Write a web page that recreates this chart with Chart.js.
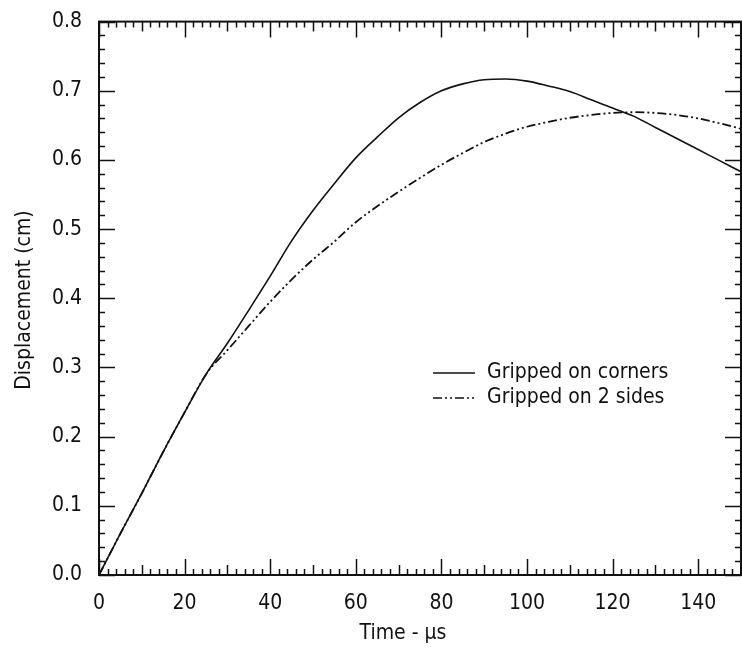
<!DOCTYPE html>
<html>
<head>
<meta charset="utf-8">
<script src="https://cdn.jsdelivr.net/npm/chart.js@4.4.1/dist/chart.umd.min.js"></script>
<style>
html,body{margin:0;padding:0;background:#fff;}
#wrap{width:742px;height:652px;position:relative;}
</style>
</head>
<body>
<div id="wrap"><canvas id="c" width="742" height="652"></canvas></div>
<script>
const timeUs = [0,5,10,15,20,25,30,35,40,45,50,55,60,65,70,75,80,85,90,95,100,105,110,115,120,125,130,135,140,145,150];
const grippedCorners = [0,0.06,0.118,0.178,0.235,0.29,0.335,0.383,0.432,0.483,0.527,0.566,0.603,0.633,0.661,0.683,0.700,0.710,0.716,0.717,0.714,0.707,0.699,0.687,0.675,0.663,0.647,0.631,0.615,0.599,0.583];
const gripped2Sides = [0,0.06,0.118,0.178,0.235,0.29,0.325,0.36,0.395,0.427,0.456,0.482,0.51,0.533,0.554,0.574,0.593,0.61,0.626,0.638,0.648,0.655,0.661,0.665,0.668,0.669,0.668,0.665,0.66,0.653,0.645];
const seriesNames = ["Gripped on corners","Gripped on 2 sides"];
const xTickLabels = [0,20,40,60,80,100,120,140];
const yTickLabels = [0.0,0.1,0.2,0.3,0.4,0.5,0.6,0.7,0.8];
const xTitle = "Time - µs";
const yTitle = "Displacement (cm)";

const FONT = "'DejaVu Sans Condensed','DejaVu Sans','Liberation Sans',Arial,sans-serif";
const DASH2 = [9,3,2,3,2,3];

const frameTicks = {
  id:'frameTicks',
  afterDatasetsDraw(chart){
    const ctx = chart.ctx, a = chart.chartArea;
    const xs = chart.scales.x, ys = chart.scales.y;
    ctx.save();
    ctx.strokeStyle = '#111';
    ctx.lineWidth = 2;
    ctx.strokeRect(a.left, a.top, a.right - a.left, a.bottom - a.top);
    ctx.lineWidth = 1.5;
    ctx.beginPath();
    for (let v = 0; v <= 150; v += 2) {
      const p = Math.round(xs.getPixelForValue(v)) + 0.5;
      const L = v % 20 === 0 ? 16 : (v % 10 === 0 ? 10 : 6);
      ctx.moveTo(p, a.bottom); ctx.lineTo(p, a.bottom - L);
      ctx.moveTo(p, a.top); ctx.lineTo(p, a.top + L);
    }
    for (let i = 0; i <= 40; i++) {
      const v = i * 0.02;
      const p = Math.round(ys.getPixelForValue(v)) + 0.5;
      const L = i % 5 === 0 ? 16 : 6;
      ctx.moveTo(a.left, p); ctx.lineTo(a.left + L, p);
      ctx.moveTo(a.right, p); ctx.lineTo(a.right - L, p);
    }
    ctx.stroke();
    // titles
    ctx.fillStyle = '#111';
    ctx.font = "21px " + FONT;
    ctx.textAlign = 'center';
    ctx.textBaseline = 'middle';
    ctx.fillText(xTitle, 403, 634);
    ctx.save();
    ctx.translate(25, 300);
    ctx.rotate(-Math.PI/2);
    ctx.fillText(yTitle, 0, 0);
    ctx.restore();
    // legend
    ctx.textAlign = 'left';
    const items = [{y:373, dash:[]},{y:398, dash:DASH2}];
    items.forEach((it, k) => {
      ctx.beginPath();
      ctx.setLineDash(it.dash);
      ctx.lineWidth = 1.5;
      ctx.moveTo(433, it.y); ctx.lineTo(475, it.y);
      ctx.stroke();
      ctx.setLineDash([]);
      ctx.fillText(seriesNames[k], 487, it.y);
    });
    ctx.restore();
  }
};

new Chart(document.getElementById('c'), {
  type: 'line',
  data: {
    datasets: [
      { label: seriesNames[0], data: timeUs.map((t,i)=>({x:t,y:grippedCorners[i]})),
        borderColor:'#111', borderWidth:1.6, pointRadius:0, cubicInterpolationMode:'monotone', fill:false },
      { label: seriesNames[1], data: timeUs.map((t,i)=>({x:t,y:gripped2Sides[i]})),
        borderColor:'#111', borderWidth:1.8, borderDash:DASH2, pointRadius:0, cubicInterpolationMode:'monotone', fill:false }
    ]
  },
  options: {
    responsive:false, animation:false, devicePixelRatio:1,
    layout:{ padding:{ top:19, right:1, left:0, bottom:0 } },
    plugins:{ legend:{display:false}, tooltip:{enabled:false} },
    scales:{
      x:{ type:'linear', min:0, max:150,
        grid:{display:false}, border:{display:false},
        afterBuildTicks(s){ s.ticks = xTickLabels.map(v=>({value:v})); },
        afterFit(s){ s.height = 77; },
        ticks:{ color:'#111', font:{family:FONT, size:21}, padding:8, maxRotation:0, autoSkip:false }
      },
      y:{ type:'linear', min:0, max:0.8,
        grid:{display:false}, border:{display:false},
        afterBuildTicks(s){ s.ticks = yTickLabels.map(v=>({value:v})); },
        afterFit(s){ s.width = 99; },
        ticks:{ color:'#111', font:{family:FONT, size:21}, padding:9, callback:(v)=>Number(v).toFixed(1) }
      }
    }
  },
  plugins:[frameTicks]
});
</script>
</body>
</html>
